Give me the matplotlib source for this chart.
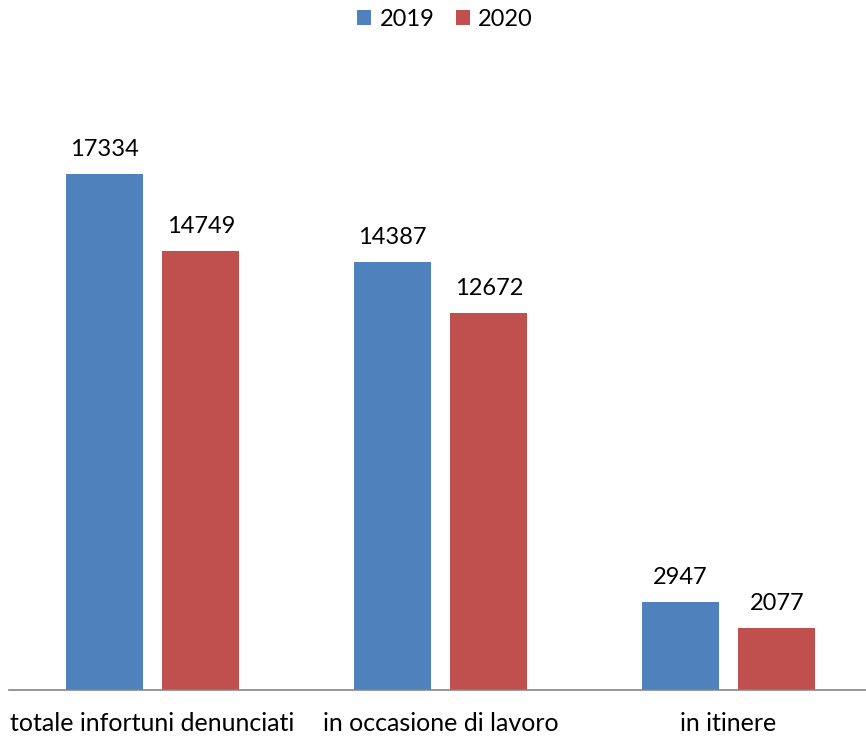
import matplotlib
matplotlib.use("Agg")
import matplotlib.pyplot as plt
import numpy as np

categories = ["totale infortuni denunciati", "in occasione di lavoro", "in itinere"]
series_names = ["2019", "2020"]
values_2019 = [17334, 14387, 2947]
values_2020 = [14749, 12672, 2077]

blue = "#4F81BD"
red = "#C0504D"

plt.rcParams['font.family'] = ['Lato', 'DejaVu Sans']

W, H = 866, 736
fig = plt.figure(figsize=(W / 100, H / 100), dpi=100)
# axes: baseline at 690px, groups spaced 288px starting at 152.5px
left = 8.5 / W
width = 864 / W
bottom = (H - 690) / H
top_px = 60
ax = fig.add_axes([left, bottom, width, (690 - top_px) / H])

x = np.arange(len(categories))
bw = 0.267
off = 0.1675
b1 = ax.bar(x - off, values_2019, bw, color=blue, label=series_names[0])
b2 = ax.bar(x + off, values_2020, bw, color=red, label=series_names[1])

px_per_unit = 516 / 17334
ax.set_xlim(-0.5, 2.5)
ax.set_ylim(0, (690 - top_px) / px_per_unit)

for bars, vals in ((b1, values_2019), (b2, values_2020)):
    for rect, v in zip(bars, vals):
        ax.annotate(str(v), (rect.get_x() + rect.get_width() / 2, v),
                    xytext=(0, 10), textcoords="offset points",
                    ha="center", va="bottom", fontsize=17)

for s in ("top", "right", "left"):
    ax.spines[s].set_visible(False)
ax.spines["bottom"].set_color("#868686")
ax.spines["bottom"].set_linewidth(1.2)
ax.set_yticks([])
ax.set_xticks(x)
ax.set_xticklabels(categories, fontsize=18)
ax.tick_params(axis="x", length=0, pad=16)

fig.legend(handles=[b1, b2], labels=series_names, loc="center",
           bbox_to_anchor=(0.514, 1 - 19 / H), ncol=2, frameon=False,
           fontsize=17, handlelength=0.6, handleheight=0.6,
           handletextpad=0.35, columnspacing=0.9)

fig.savefig("out.png", dpi=100)
